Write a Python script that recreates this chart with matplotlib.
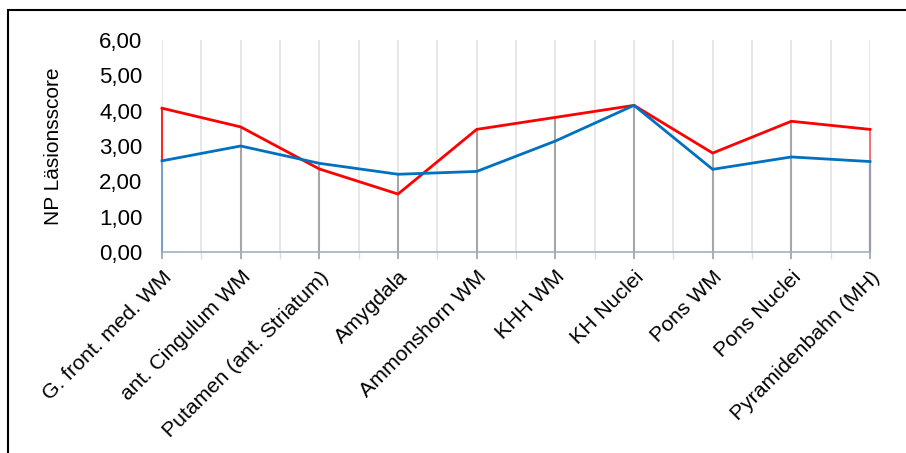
import matplotlib.pyplot as plt
from matplotlib.patches import Rectangle
from matplotlib.ticker import MultipleLocator

plt.rcParams['font.family'] = ['Liberation Sans', 'DejaVu Sans']

categories = ["G. front. med. WM", "ant. Cingulum WM", "Putamen (ant. Striatum)",
              "Amygdala", "Ammonshorn WM", "KHH WM", "KH Nuclei", "Pons WM",
              "Pons Nuclei", "Pyramidenbahn (MH)"]
red_vals = [4.07, 3.54, 2.35, 1.64, 3.47, 3.81, 4.15, 2.80, 3.70, 3.47]
blue_vals = [2.58, 3.00, 2.51, 2.20, 2.28, 3.14, 4.15, 2.34, 2.69, 2.56]
y_ticks = [0, 1, 2, 3, 4, 5, 6]

RED = "#ff0000"
BLUE = "#0070c0"
DROP = "#a6a6a6"

fig = plt.figure(figsize=(9.06, 4.53), dpi=100)
ax = fig.add_axes([162 / 906, 201 / 453, 708 / 906, 212 / 453])

x = list(range(len(categories)))
ax.set_xlim(0, len(categories) - 1)
ax.set_ylim(0, 6)

# light vertical gridlines (major + minor)
ax.xaxis.set_minor_locator(MultipleLocator(0.5))
ax.grid(axis="x", which="both", color="#e3e3e3", lw=1.2, zorder=0)

# drop lines from the higher series down to the axis
last = len(categories) - 1
for i in x:
    hi = max(red_vals[i], blue_vals[i])
    lo = min(red_vals[i], blue_vals[i])
    if i == 0:
        ax.plot([i, i], [red_vals[i], blue_vals[i]], color=RED, lw=1.2, clip_on=False, zorder=2)
        ax.plot([i, i], [0, blue_vals[i]], color="#5b8fc9", lw=1.2, clip_on=False, zorder=2)
    elif i == last:
        ax.plot([i, i], [red_vals[i], blue_vals[i]], color="#ff6b6b", lw=1.4, clip_on=False, zorder=2)
        ax.plot([i, i], [0, lo], color="#9c98ab", lw=1.6, clip_on=False, zorder=2)
    else:
        ax.plot([i, i], [0, hi], color=DROP, lw=1.5, zorder=2)

ax.plot(x, red_vals, color=RED, lw=2.0, clip_on=False, zorder=3)
ax.plot(x, blue_vals, color=BLUE, lw=2.0, clip_on=False, zorder=4)

ax.set_yticks(y_ticks)
ax.set_yticklabels([f"{v:.2f}".replace(".", ",") for v in y_ticks], fontsize=16)
ax.tick_params(axis="y", length=0, pad=14)

ax.set_xticks(x)
ax.set_xticklabels(categories, rotation=45, ha="right", va="top",
                   rotation_mode="anchor", fontsize=15.3)
ax.tick_params(axis="x", which="major", length=5, width=1.3, color=DROP, pad=6)
ax.tick_params(axis="x", which="minor", length=5, width=1.0, color="#dcdcdc")

for s in ["top", "right", "left"]:
    ax.spines[s].set_visible(False)
ax.spines["bottom"].set_color("#9fb0c8")
ax.spines["bottom"].set_linewidth(1.2)

ax.set_ylabel("NP Läsionsscore", fontsize=15, labelpad=26)

fig.patches.append(Rectangle((8 / 906, -0.1), 1.1, 1.1 - 10 / 453 + 0.0,
                             transform=fig.transFigure, fill=False,
                             edgecolor="black", lw=1.5))

fig.savefig("out.png", dpi=100)
